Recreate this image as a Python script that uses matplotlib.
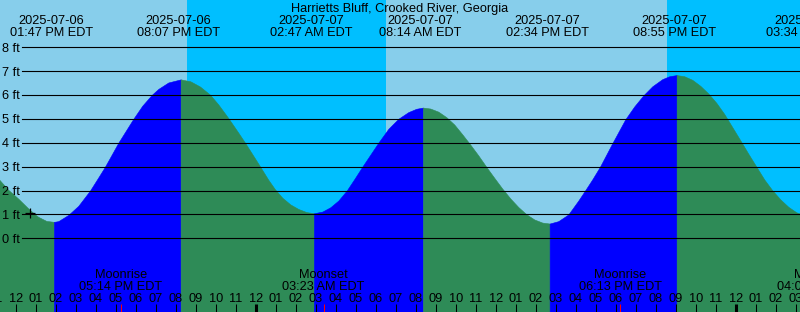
import matplotlib.pyplot as plt
import matplotlib.transforms as mtransforms

plt.rcParams['font.family'] = ['Liberation Sans', 'DejaVu Sans']

station = 'Harrietts Bluff, Crooked River, Georgia'

# tide curve, hours counted from 2025-07-06 00:00 EDT, heights in ft
tide_hours = [11.0, 11.5, 12.0, 12.5, 12.835, 13.0, 13.4, 13.783,
              14.0, 14.5, 15.0, 15.585, 16.0, 16.335, 17.0, 17.75, 18.2, 18.67, 19.0, 19.5, 20.117,
              20.6, 21.085, 21.585, 22.0, 22.5, 23.0, 23.335, 23.7, 24.085, 24.5, 24.835, 25.2, 25.6,
              26.0, 26.4, 26.783,
              27.2, 27.6, 28.0, 28.42, 28.8, 29.2, 29.6, 30.0, 30.5, 31.0, 31.5, 31.9, 32.233,
              32.6, 33.0, 33.4, 33.8, 34.2, 34.6, 35.0, 35.4, 35.8, 36.2, 36.6, 37.0, 37.4, 37.8, 38.2, 38.567,
              39.0, 39.5, 40.0, 40.335, 40.7, 41.085, 41.7, 42.35, 42.8, 43.25, 43.7, 44.2, 44.55, 44.917,
              45.3, 45.7, 46.1, 46.5, 46.9, 47.3, 47.7, 48.1, 48.5, 48.9, 49.3, 49.7, 50.1, 50.5,
              50.9, 51.3, 51.567]
tide_heights = [2.50, 2.03, 1.66, 1.25, 1.00, 0.90, 0.73, 0.69,
                0.72, 0.98, 1.36, 2.00, 2.55, 3.00, 4.00, 5.00, 5.55, 6.00, 6.25, 6.52, 6.65,
                6.57, 6.35, 6.01, 5.60, 5.03, 4.42, 4.00, 3.52, 3.01, 2.45, 2.05, 1.70, 1.42,
                1.23, 1.10, 1.05,
                1.12, 1.30, 1.58, 2.00, 2.48, 3.00, 3.50, 4.00, 4.58, 5.00, 5.28, 5.42, 5.47,
                5.43, 5.30, 5.07, 4.76, 4.35, 3.92, 3.47, 2.99, 2.53, 2.08, 1.67, 1.31, 1.01, 0.79, 0.66, 0.62,
                0.72, 1.00, 1.58, 2.00, 2.47, 3.00, 3.98, 4.98, 5.52, 5.98, 6.36, 6.66, 6.78, 6.83,
                6.78, 6.63, 6.38, 6.06, 5.67, 5.20, 4.65, 4.10, 3.54, 3.00, 2.46, 2.01, 1.63, 1.32,
                1.09, 0.97, 0.95]

# high / low tide events
extreme_hours = [13.783, 20.117, 26.783, 32.233, 38.567, 44.917, 51.567]
extreme_dates = ['2025-07-06', '2025-07-06', '2025-07-07', '2025-07-07',
                 '2025-07-07', '2025-07-07', '2025-07-08']
extreme_times = ['01:47 PM EDT', '08:07 PM EDT', '02:47 AM EDT', '08:14 AM EDT',
                 '02:34 PM EDT', '08:55 PM EDT', '03:34 AM EDT']

# sun and moon
sunset_hours = [20.57, 44.55]
sunrise_hours = [30.50]
moon_hours = [17.233, 27.383, 42.217, 52.1]
moon_names = ['Moonrise', 'Moonset', 'Moonrise', 'Moonset']
moon_times = ['05:14 PM EDT', '03:23 AM EDT', '06:13 PM EDT', '04:06 AM EDT']

now_hour, now_height = 12.7, 1.04
ft_levels = list(range(0, 9))
tick_hours = list(range(11, 52))

day_color = '#87CEEB'
night_color = '#00BFFF'
rise_color = '#0000FF'
fall_color = '#2E8B57'
curve_shift = 0.115  # curve is drawn a few minutes late, like the original

W, H = 800, 312
x0, x1 = 11.2, 51.2
y0, y1 = -3.08, 9.97
fs = 9.2

fig = plt.figure(figsize=(W / 100, H / 100), dpi=100)
ax = fig.add_axes([0, 0, 1, 1])
ax.set_xlim(x0, x1)
ax.set_ylim(y0, y1)
ax.axis('off')


def yf(px):
    # pixel row from the top -> axes fraction
    return 1 - px / H


# day / night background
ax.axvspan(x0, sunset_hours[0], color=day_color, lw=0)
ax.axvspan(sunset_hours[0], sunrise_hours[0], color=night_color, lw=0)
ax.axvspan(sunrise_hours[0], sunset_hours[1], color=day_color, lw=0)
ax.axvspan(sunset_hours[1], x1 + 1, color=night_color, lw=0)

# water, blue while rising and green while falling
cuts = [0] + [i for i, t in enumerate(tide_hours) if t in extreme_hours]
if cuts[-1] != len(tide_hours) - 1:
    cuts.append(len(tide_hours) - 1)
for a, b in zip(cuts[:-1], cuts[1:]):
    xs = [t + curve_shift for t in tide_hours[a:b + 1]]
    ys = tide_heights[a:b + 1]
    c = rise_color if ys[-1] > ys[0] else fall_color
    ax.fill_between(xs, ys, y0, color=c, lw=0.4, edgecolor=c)

# height lines and labels
ytrans = mtransforms.blended_transform_factory(ax.transAxes, ax.transData)
for h in ft_levels:
    ax.axhline(h, xmin=22 / W, xmax=1, color='black', lw=0.8)
    ax.text(2.5 / W, h, f'{h} ft', transform=ytrans,
            ha='left', va='center_baseline', fontsize=fs, color='black')

ax.plot(now_hour, now_height, marker='+', ms=7, mew=0.9, color='black')

trans = mtransforms.blended_transform_factory(ax.transData, ax.transAxes)

# title and tide events
ax.text(0.5, yf(11.7), station, transform=ax.transAxes, ha='center', va='baseline', fontsize=fs)
for t, d, s in zip(extreme_hours, extreme_dates, extreme_times):
    ax.text(t, yf(24), d, transform=trans, ha='center', va='baseline', fontsize=fs)
    ax.text(t, yf(36), s, transform=trans, ha='center', va='baseline', fontsize=fs)

# moon events
for t, n, s in zip(moon_hours, moon_names, moon_times):
    ax.text(t, yf(277.7), n, transform=trans, ha='center', va='baseline', fontsize=fs)
    ax.text(t, yf(290), s, transform=trans, ha='center', va='baseline', fontsize=fs)
    ax.plot([t, t], [0, 8 / H], transform=trans, color='red', lw=0.75, solid_capstyle='butt')

# hour ticks
for t in tick_hours:
    lab = f'{(t % 12) or 12:02d}'
    ax.text(t, yf(302), lab, transform=trans, ha='center', va='baseline', fontsize=fs)
    lw = 2.2 if t % 24 == 0 else 0.75
    ax.plot([t, t], [0, 8 / H], transform=trans, color='black', lw=lw, solid_capstyle='butt')

fig.savefig('out.png', dpi=100)
